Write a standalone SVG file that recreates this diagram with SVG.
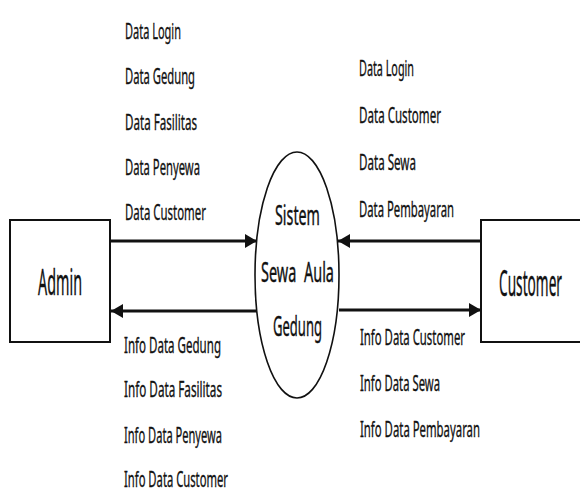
<svg xmlns="http://www.w3.org/2000/svg" width="580" height="495" viewBox="0 0 580 495">
<style>
.lbl{font-family:"Noto Sans","Open Sans","Liberation Sans",sans-serif;font-size:22px;fill:#111;stroke:#111;stroke-width:0.35}
.big{font-family:"Noto Sans","Open Sans","Liberation Sans",sans-serif;fill:#111;stroke:#111;stroke-width:0.4}
.box{fill:#fff;stroke:#111;stroke-width:2}
.flow{stroke:#111;stroke-width:3;fill:none}
</style>
<defs>
<marker id="ah" viewBox="0 0 12 14" refX="12" refY="7" markerWidth="12" markerHeight="14" markerUnits="userSpaceOnUse" orient="auto">
<path d="M0,0 L12,7 L0,14 Z" fill="#111"/>
</marker>
</defs>
<rect width="580" height="495" fill="#fff"/>
<g id="connectors">
<line class="flow" x1="111" y1="241" x2="257" y2="241" marker-end="url(#ah)"/>
<line class="flow" x1="257" y1="311" x2="111" y2="311" marker-end="url(#ah)"/>
<line class="flow" x1="481" y1="241" x2="338" y2="241" marker-end="url(#ah)"/>
<line class="flow" x1="339" y1="310" x2="481" y2="310" marker-end="url(#ah)"/>
<g id="labels-admin-in">
<text class="lbl" x="125" y="39" textLength="56" lengthAdjust="spacingAndGlyphs">Data Login</text>
<text class="lbl" x="125" y="84" textLength="70" lengthAdjust="spacingAndGlyphs">Data Gedung</text>
<text class="lbl" x="125" y="130" textLength="72" lengthAdjust="spacingAndGlyphs">Data Fasilitas</text>
<text class="lbl" x="125" y="175" textLength="75" lengthAdjust="spacingAndGlyphs">Data Penyewa</text>
<text class="lbl" x="125" y="220" textLength="81" lengthAdjust="spacingAndGlyphs">Data Customer</text>
</g>
<g id="labels-admin-out">
<text class="lbl" x="124" y="353" textLength="97" lengthAdjust="spacingAndGlyphs">Info Data Gedung</text>
<text class="lbl" x="124" y="397" textLength="98" lengthAdjust="spacingAndGlyphs">Info Data Fasilitas</text>
<text class="lbl" x="124" y="443" textLength="98" lengthAdjust="spacingAndGlyphs">Info Data Penyewa</text>
<text class="lbl" x="124" y="487" textLength="104" lengthAdjust="spacingAndGlyphs">Info Data Customer</text>
</g>
<g id="labels-customer-in">
<text class="lbl" x="359" y="76" textLength="55" lengthAdjust="spacingAndGlyphs">Data Login</text>
<text class="lbl" x="359" y="123" textLength="82" lengthAdjust="spacingAndGlyphs">Data Customer</text>
<text class="lbl" x="359" y="170" textLength="57" lengthAdjust="spacingAndGlyphs">Data Sewa</text>
<text class="lbl" x="359" y="217" textLength="95" lengthAdjust="spacingAndGlyphs">Data Pembayaran</text>
</g>
<g id="labels-customer-out">
<text class="lbl" x="360" y="345" textLength="105" lengthAdjust="spacingAndGlyphs">Info Data Customer</text>
<text class="lbl" x="360" y="391" textLength="80" lengthAdjust="spacingAndGlyphs">Info Data Sewa</text>
<text class="lbl" x="360" y="437" textLength="120" lengthAdjust="spacingAndGlyphs">Info Data Pembayaran</text>
</g>
</g>
<g id="admin">
<rect class="box" x="10" y="220" width="100" height="122"/>
<text class="big" x="38" y="295" font-size="36" textLength="44" lengthAdjust="spacingAndGlyphs">Admin</text>
</g>
<g id="customer">
<path class="box" d="M581,220 H481 V342 H581"/>
<text class="big" x="499" y="296" font-size="36" textLength="63" lengthAdjust="spacingAndGlyphs">Customer</text>
</g>
<g id="sistem">
<ellipse cx="297" cy="275" rx="42" ry="123" fill="#fff" stroke="#111" stroke-width="1.6"/>
<text class="big" x="275" y="225" font-size="28" textLength="45" lengthAdjust="spacingAndGlyphs">Sistem</text>
<text class="big" x="261" y="282" font-size="28" textLength="73" lengthAdjust="spacingAndGlyphs" xml:space="preserve">Sewa  Aula</text>
<text class="big" x="273" y="336" font-size="28" textLength="49" lengthAdjust="spacingAndGlyphs">Gedung</text>
</g>
</svg>
